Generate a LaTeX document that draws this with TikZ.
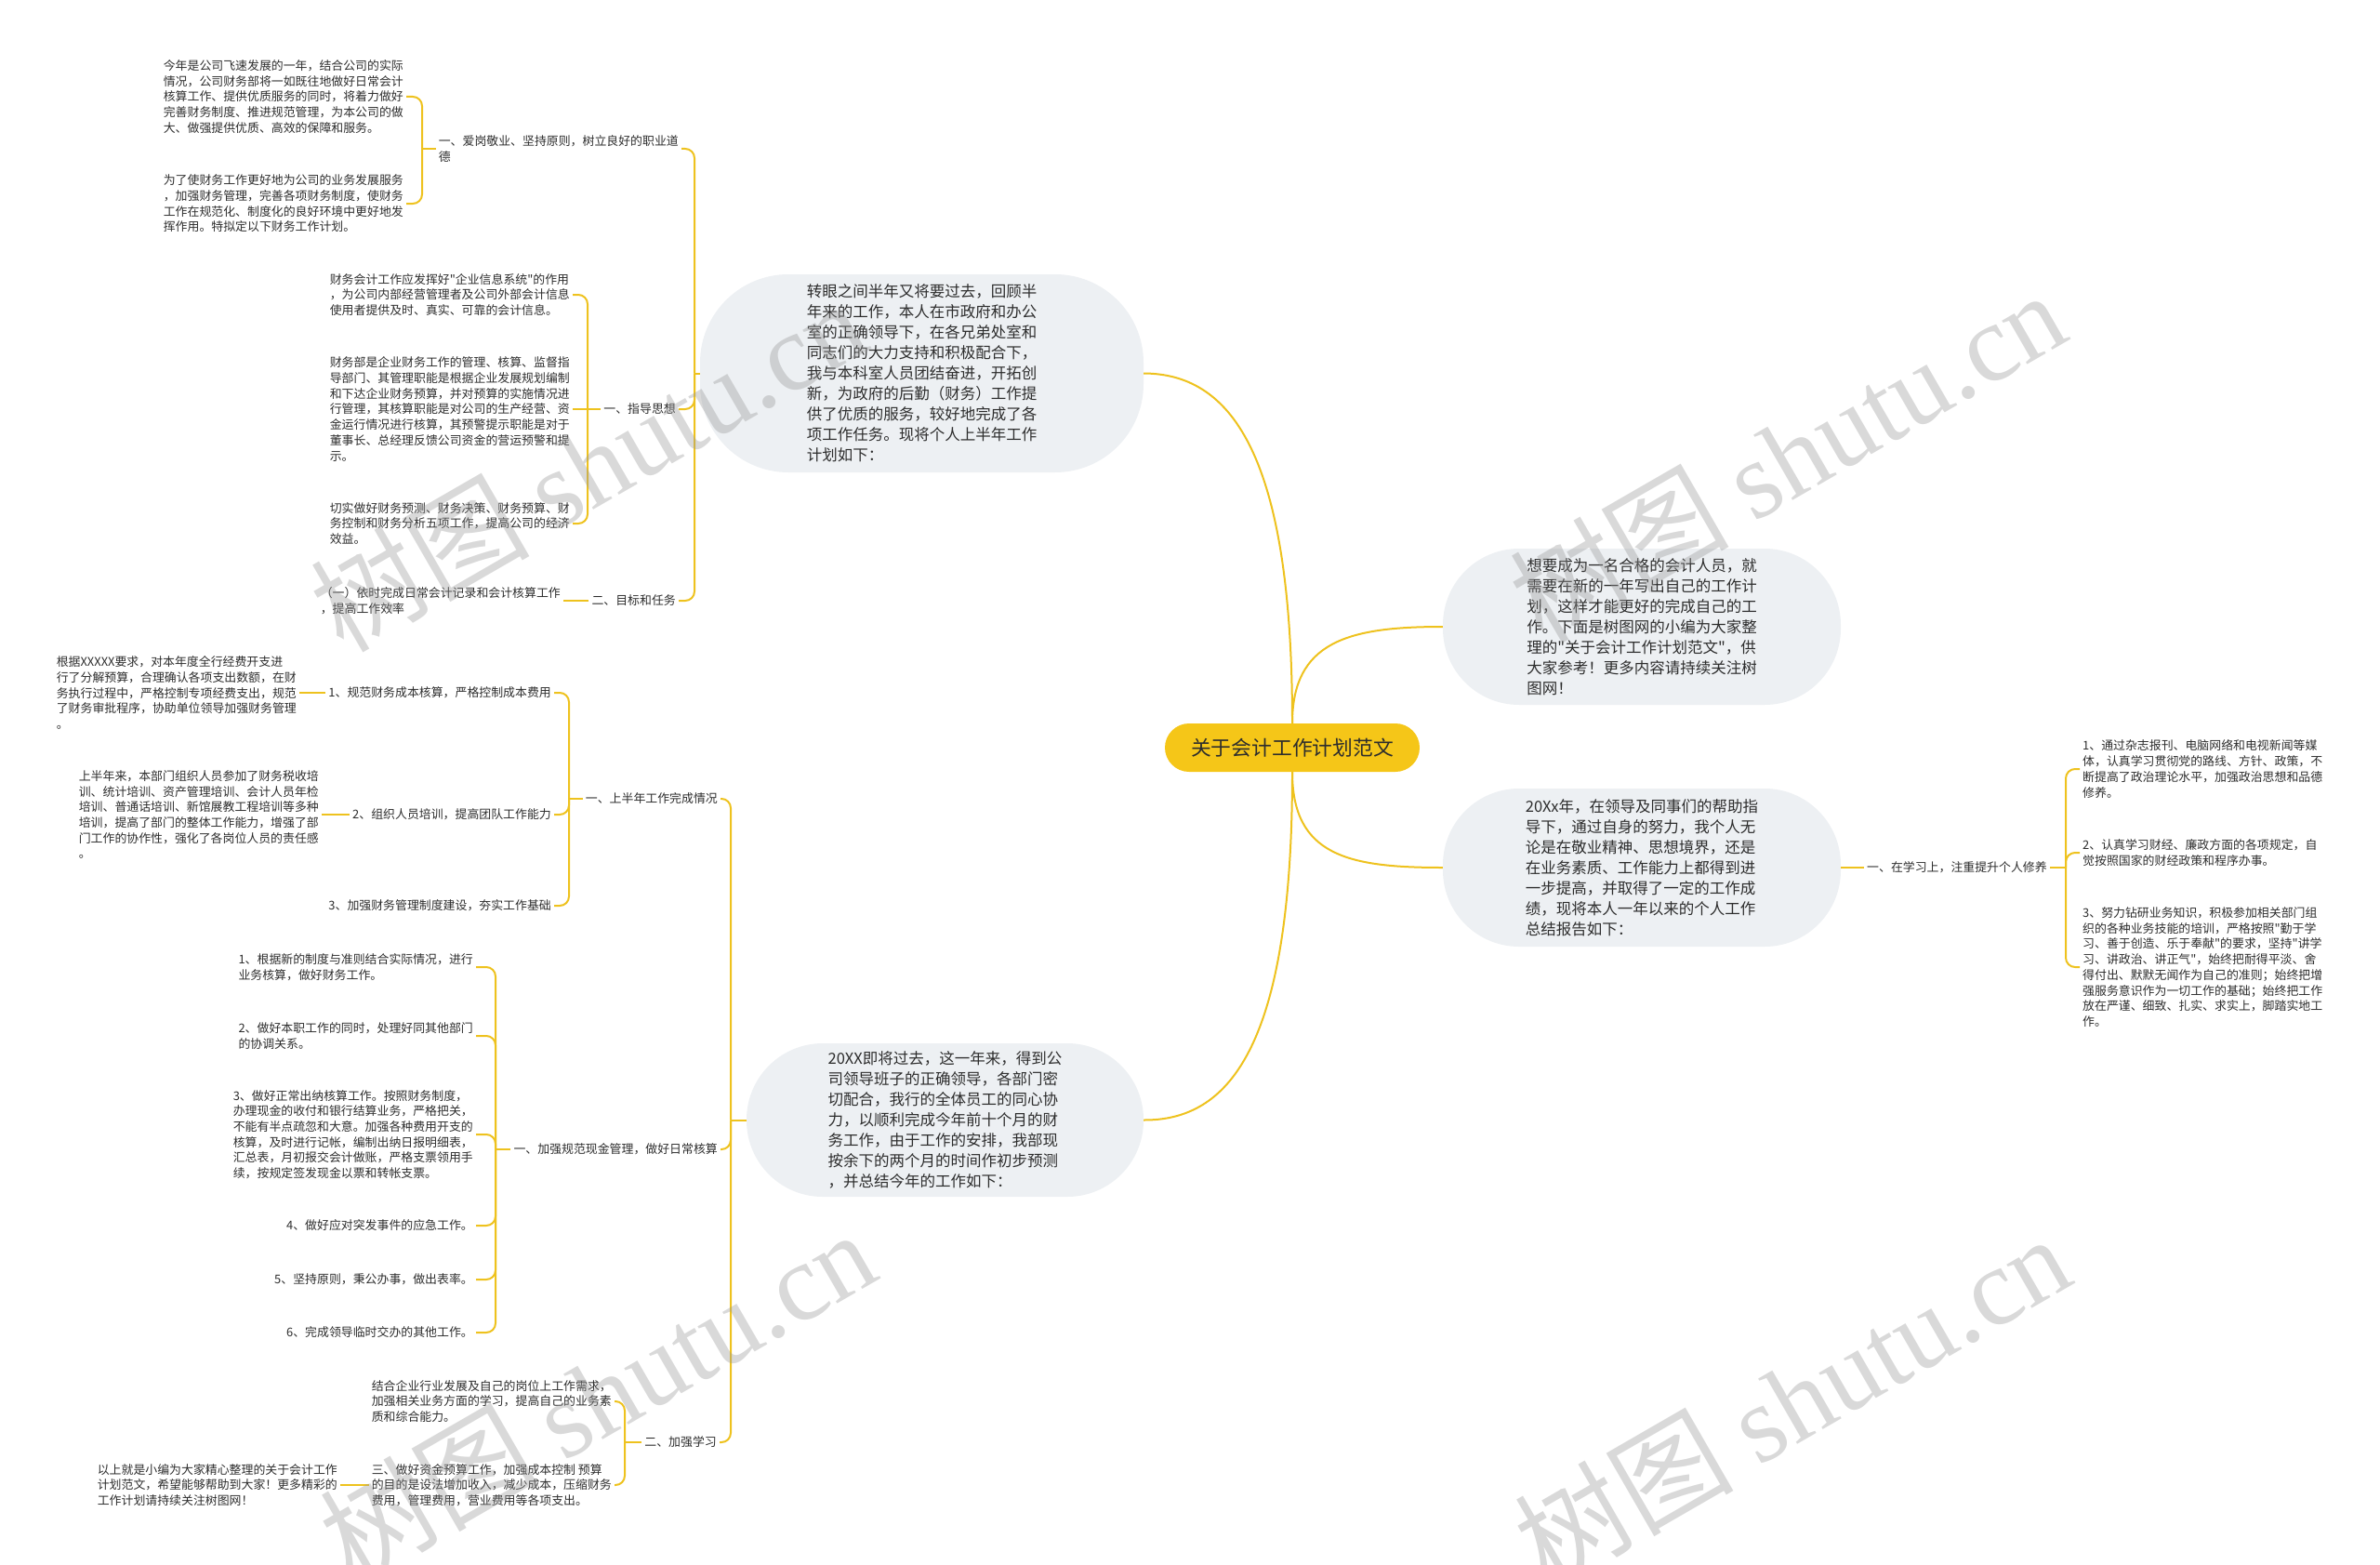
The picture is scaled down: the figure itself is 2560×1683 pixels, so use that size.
\documentclass[tikz,border=0pt]{standalone}
\usepackage{fontspec}
\setmainfont{Noto Sans CJK SC}
\newfontfamily\cjk{Noto Sans CJK SC}
\newfontfamily\wmlatin{Liberation Serif}
\definecolor{lineY}{RGB}{238,194,30}
\definecolor{bub}{RGB}{237,240,243}
\definecolor{rootY}{RGB}{245,198,24}
\definecolor{txt}{RGB}{45,45,45}
\definecolor{wmgray}{RGB}{150,150,150}
\begin{document}
\begin{tikzpicture}[x=1pt,y=-1pt,
  conn/.style={draw=lineY, line width=2pt},
  rconn/.style={conn, rounded corners=10pt},
  small/.style={font={\cjk\fontsize{12.9}{16.7}\selectfont}, text=txt, align=left, inner sep=3pt},
  bubble/.style={fill=bub, rounded corners=82pt, font={\cjk\fontsize{16.5}{22}\selectfont}, text=txt, align=left, inner sep=0pt},
  rootn/.style={fill=rootY, rounded corners=26pt, minimum width=274pt, minimum height=52pt, font={\cjk\fontsize{21.8}{26}\selectfont}, text=txt, inner sep=0pt},
  wm/.style={text=wmgray, opacity=0.36, font={\cjk\fontsize{118}{130}\selectfont}, inner sep=0pt}]
\useasboundingbox (0,0) rectangle (2560,1683);

% ---------- root and bubbles ----------
\node[rootn] (root) at (1390,804) {关于会计工作计划范文};

\node[bubble, rounded corners=95pt, minimum width=477pt, minimum height=213pt] (L1) at (991.5,401.5) {转眼之间半年又将要过去，回顾半\\年来的工作，本人在市政府和办公\\室的正确领导下，在各兄弟处室和\\同志们的大力支持和积极配合下，\\我与本科室人员团结奋进，开拓创\\新，为政府的后勤（财务）工作提\\供了优质的服务，较好地完成了各\\项工作任务。现将个人上半年工作\\计划如下：};

\node[bubble, minimum width=427pt, minimum height=165pt] (L2) at (1016.5,1204.5) {20XX即将过去，这一年来，得到公\\司领导班子的正确领导，各部门密\\切配合，我行的全体员工的同心协\\力，以顺利完成今年前十个月的财\\务工作，由于工作的安排，我部现\\按余下的两个月的时间作初步预测\\，并总结今年的工作如下：};

\node[bubble, minimum width=428pt, minimum height=168pt] (R1) at (1766,674) {想要成为一名合格的会计人员，就\\需要在新的一年写出自己的工作计\\划，这样才能更好的完成自己的工\\作。下面是树图网的小编为大家整\\理的"关于会计工作计划范文"，供\\大家参考！更多内容请持续关注树\\图网！};

\node[bubble, minimum width=428pt, minimum height=170pt] (R2) at (1766,933) {20Xx年，在领导及同事们的帮助指\\导下，通过自身的努力，我个人无\\论是在敬业精神、思想境界，还是\\在业务素质、工作能力上都得到进\\一步提高，并取得了一定的工作成\\绩，现将本人一年以来的个人工作\\总结报告如下：};

\draw[conn] (root.north) .. controls (1390,480) and (1320,402) .. (L1.east);
\draw[conn] (root.south) .. controls (1390,1130) and (1320,1205) .. (L2.east);
\draw[conn] (root.north) .. controls (1390,690) and (1450,674) .. (R1.west);
\draw[conn] (root.south) .. controls (1390,920) and (1450,933) .. (R2.west);

% ---------- upper left branch ----------
\node[small, anchor=east] (a) at (733,160) {一、爱岗敬业、坚持原则，树立良好的职业道\\德};
\node[small, anchor=east] (A1) at (437,104) {今年是公司飞速发展的一年，结合公司的实际\\情况，公司财务部将一如既往地做好日常会计\\核算工作、提供优质服务的同时，将着力做好\\完善财务制度、推进规范管理，为本公司的做\\大、做强提供优质、高效的保障和服务。};
\node[small, anchor=east] (A2) at (437,219) {为了使财务工作更好地为公司的业务发展服务\\，加强财务管理，完善各项财务制度，使财务\\工作在规范化、制度化的良好环境中更好地发\\挥作用。特拟定以下财务工作计划。};

\node[small, anchor=east] (b) at (730,440) {一、指导思想};
\node[small, anchor=east] (B1) at (616,317) {财务会计工作应发挥好"企业信息系统"的作用\\，为公司内部经营管理者及公司外部会计信息\\使用者提供及时、真实、可靠的会计信息。};
\node[small, anchor=east] (B2) at (616,440) {财务部是企业财务工作的管理、核算、监督指\\导部门、其管理职能是根据企业发展规划编制\\和下达企业财务预算，并对预算的实施情况进\\行管理，其核算职能是对公司的生产经营、资\\金运行情况进行核算，其预警提示职能是对于\\董事长、总经理反馈公司资金的营运预警和提\\示。};
\node[small, anchor=east] (B3) at (616,563) {切实做好财务预测、财务决策、财务预算、财\\务控制和财务分析五项工作，提高公司的经济\\效益。};

\node[small, anchor=east] (c) at (730,646) {二、目标和任务};
\node[small, anchor=east] (C1) at (606,646) {（一）依时完成日常会计记录和会计核算工作\\，提高工作效率};

\coordinate (kL1) at (747,0);
\coordinate (ka) at (454,0);
\coordinate (kb) at (632,0);
\draw[conn] (L1.west) -- (L1.west -| kL1);
\draw[rconn] (L1.west -| kL1) |- (a.east);
\draw[rconn] (L1.west -| kL1) |- (b.east);
\draw[rconn] (L1.west -| kL1) |- (c.east);
\draw[conn] (a.west) -- (a.west -| ka);
\draw[rconn] (a.west -| ka) |- (A1.east);
\draw[rconn] (a.west -| ka) |- (A2.east);
\draw[conn] (b.west) -- (b.west -| B2.east);
\draw[rconn] (b.west -| kb) |- (B1.east);
\draw[rconn] (b.west -| kb) |- (B3.east);
\draw[conn] (c.west) -- (c.west -| C1.east);

% ---------- lower left branch ----------
\node[small, anchor=east] (d) at (775,859) {一、上半年工作完成情况};
\node[small, anchor=east] (d1) at (596,745) {1、规范财务成本核算，严格控制成本费用};
\node[small, anchor=east] (D1) at (322,745) {根据XXXXX要求，对本年度全行经费开支进\\行了分解预算，合理确认各项支出数额，在财\\务执行过程中，严格控制专项经费支出，规范\\了财务审批程序，协助单位领导加强财务管理\\。};
\node[small, anchor=east] (d2) at (596,876) {2、组织人员培训，提高团队工作能力};
\node[small, anchor=east] (D2) at (346,876) {上半年来，本部门组织人员参加了财务税收培\\训、统计培训、资产管理培训、会计人员年检\\培训、普通话培训、新馆展教工程培训等多种\\培训，提高了部门的整体工作能力，增强了部\\门工作的协作性，强化了各岗位人员的责任感\\。};
\node[small, anchor=east] (d3) at (596,974) {3、加强财务管理制度建设，夯实工作基础};

\node[small, anchor=east] (e) at (775,1236) {一、加强规范现金管理，做好日常核算};
\node[small, anchor=east] (e1) at (512,1040) {1、根据新的制度与准则结合实际情况，进行\\业务核算，做好财务工作。};
\node[small, anchor=east] (e2) at (512,1114) {2、做好本职工作的同时，处理好同其他部门\\的协调关系。};
\node[small, anchor=east] (e3) at (512,1220) {3、做好正常出纳核算工作。按照财务制度，\\办理现金的收付和银行结算业务，严格把关，\\不能有半点疏忽和大意。加强各种费用开支的\\核算，及时进行记帐，编制出纳日报明细表，\\汇总表，月初报交会计做账，严格支票领用手\\续，按规定签发现金以票和转帐支票。};
\node[small, anchor=east] (e4) at (512,1318) {4、做好应对突发事件的应急工作。};
\node[small, anchor=east] (e5) at (512,1376) {5、坚持原则，秉公办事，做出表率。};
\node[small, anchor=east] (e6) at (512,1433) {6、完成领导临时交办的其他工作。};

\node[small, anchor=east] (f) at (774,1551) {二、加强学习};
\node[small, anchor=east] (f1) at (661,1507) {结合企业行业发展及自己的岗位上工作需求，\\加强相关业务方面的学习，提高自己的业务素\\质和综合能力。};
\node[small, anchor=east] (f2) at (661,1597) {三、做好资金预算工作，加强成本控制 预算\\的目的是设法增加收入，减少成本，压缩财务\\费用，管理费用，营业费用等各项支出。};
\node[small, anchor=east] (F1) at (366,1597) {以上就是小编为大家精心整理的关于会计工作\\计划范文，希望能够帮助到大家！更多精彩的\\工作计划请持续关注树图网！};

\coordinate (kL2) at (786,0);
\coordinate (kd) at (612,0);
\coordinate (ke) at (533,0);
\coordinate (kf) at (672,0);
\draw[conn] (L2.west) -- (L2.west -| kL2);
\draw[rconn] (L2.west -| kL2) |- (d.east);
\draw[rconn] (L2.west -| kL2) |- (e.east);
\draw[rconn] (L2.west -| kL2) |- (f.east);
\draw[conn] (d.west) -- (d.west -| kd);
\draw[rconn] (d.west -| kd) |- (d1.east);
\draw[rconn] (d.west -| kd) |- (d2.east);
\draw[rconn] (d.west -| kd) |- (d3.east);
\draw[conn] (d1.west) -- (d1.west -| D1.east);
\draw[conn] (d2.west) -- (d2.west -| D2.east);
\draw[conn] (e.west) -- (e.west -| ke);
\draw[rconn] (e.west -| ke) |- (e1.east);
\draw[rconn] (e.west -| ke) |- (e2.east);
\draw[rconn] (e.west -| ke) |- (e3.east);
\draw[rconn] (e.west -| ke) |- (e4.east);
\draw[rconn] (e.west -| ke) |- (e5.east);
\draw[rconn] (e.west -| ke) |- (e6.east);
\draw[conn] (f.west) -- (f.west -| kf);
\draw[rconn] (f.west -| kf) |- (f1.east);
\draw[rconn] (f.west -| kf) |- (f2.east);
\draw[conn] (f2.west) -- (f2.west -| F1.east);

% ---------- right branch ----------
\node[small, anchor=west] (g) at (2005,933) {一、在学习上，注重提升个人修养};
\node[small, anchor=west] (g1) at (2237,827) {1、通过杂志报刊、电脑网络和电视新闻等媒\\体，认真学习贯彻党的路线、方针、政策，不\\断提高了政治理论水平，加强政治思想和品德\\修养。};
\node[small, anchor=west] (g2) at (2237,917) {2、认真学习财经、廉政方面的各项规定，自\\觉按照国家的财经政策和程序办事。};
\node[small, anchor=west] (g3) at (2237,1040) {3、努力钻研业务知识，积极参加相关部门组\\织的各种业务技能的培训，严格按照"勤于学\\习、善于创造、乐于奉献"的要求，坚持"讲学\\习、讲政治、讲正气"，始终把耐得平淡、舍\\得付出、默默无闻作为自己的准则；始终把增\\强服务意识作为一切工作的基础；始终把工作\\放在严谨、细致、扎实、求实上，脚踏实地工\\作。};
\coordinate (kg) at (2222,0);
\draw[conn] (R2.east) -- (R2.east -| g.west);
\draw[conn] (g.east) -- (g.east -| kg);
\draw[rconn] (g.east -| kg) |- (g1.west);
\draw[rconn] (g.east -| kg) |- (g2.west);
\draw[rconn] (g.east -| kg) |- (g3.west);

% ---------- watermarks ----------
\node[wm, rotate=30] (w1) at (632,500) {树图 {\wmlatin shutu.cn}};
\node[wm, rotate=30] (w2) at (1922,490) {树图 {\wmlatin shutu.cn}};
\node[wm, rotate=30] (w3) at (642,1500) {树图 {\wmlatin shutu.cn}};
\node[wm, rotate=30] (w4) at (1927,1505) {树图 {\wmlatin shutu.cn}};
\end{tikzpicture}
\end{document}
